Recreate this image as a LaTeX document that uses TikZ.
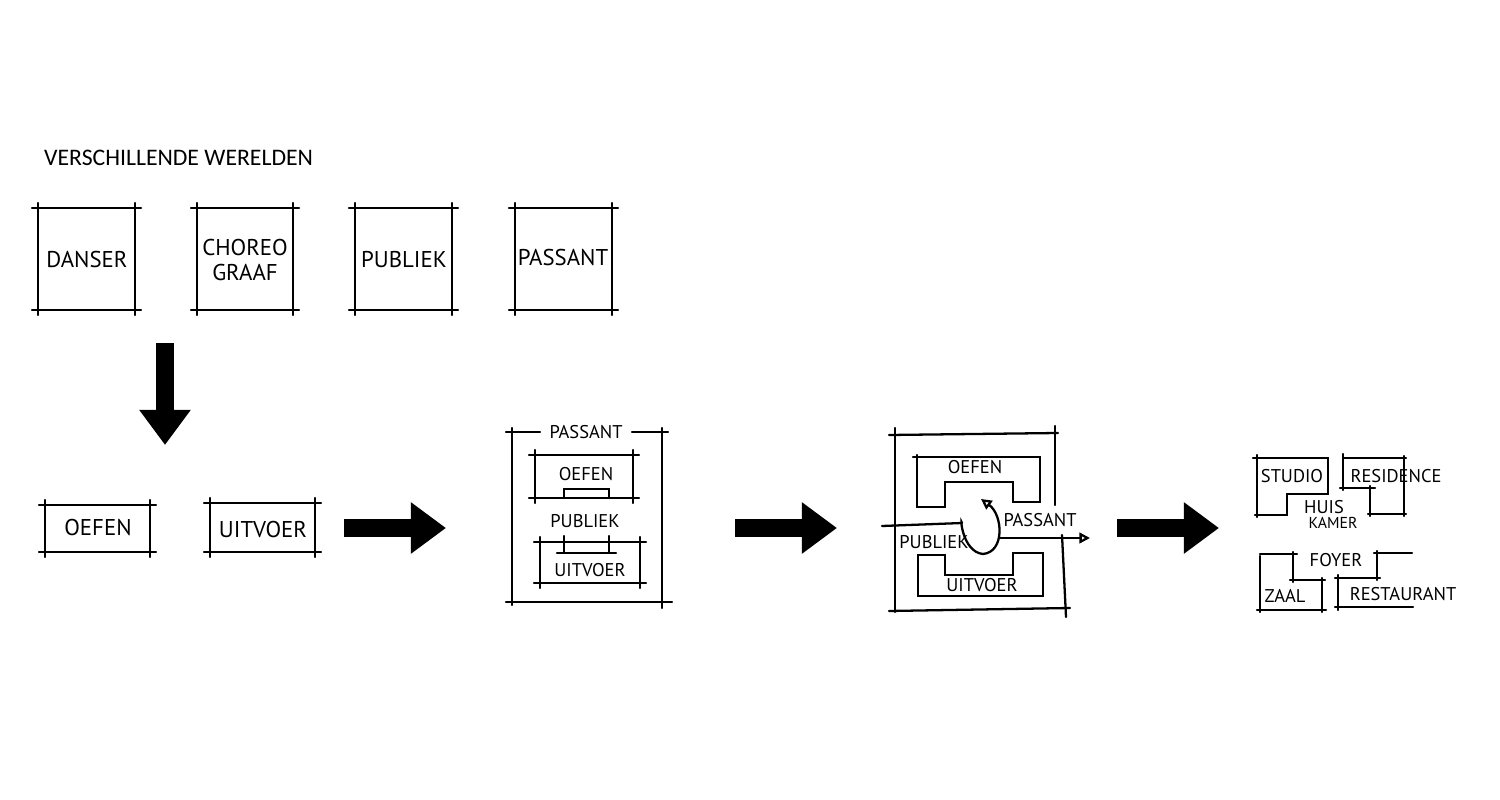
\documentclass[tikz,border=0pt]{standalone}
\usepackage{fontspec}
\setmainfont{Carlito}
\newfontfamily\hand{PT Sans}
\usetikzlibrary{arrows.meta}
\tikzset{
  pen/.style={line width=1.3pt, line cap=round, line join=miter},
  lbl/.style={font=\hand\fontsize{13}{14}\selectfont, inner sep=1pt, align=center},
  slbl/.style={font=\hand\fontsize{10.5}{12}\selectfont, inner sep=1pt, align=center},
  bigarrow/.style={line width=10pt, -{Triangle[length=20pt,width=28pt]}},
  openarrow/.style={pen, -{Triangle[open,length=6pt,width=6pt]}}
}
% sketch box with overshooting corners
\newcommand{\skbox}[4]{%
  \draw[pen] (#1-6,#2) -- (#3+6,#2);
  \draw[pen] (#1-6,#4) -- (#3+6,#4);
  \draw[pen] (#1,#2-5) -- (#1,#4+5);
  \draw[pen] (#3,#2-5) -- (#3,#4+5);}

\begin{document}
\begin{tikzpicture}[x=0.02cm,y=-0.02cm]
        \useasboundingbox (0,0) rectangle (1500,800);

        \node[anchor=west, font=\fontsize{13.5}{15}\selectfont] (title) at (38,158) {VERSCHILLENDE WERELDEN};

        % werelden
        \skbox{38}{208}{135}{310}
        \skbox{197}{208}{293}{310}
        \skbox{355}{208}{452}{310}
        \skbox{515}{208}{612}{310}
        \node[lbl] (danser) at (87,260) {DANSER};
        \node[lbl] (choreo) at (245,260) {CHOREO\\GRAAF};
        \node[lbl] (publiek) at (404,260) {PUBLIEK};
        \node[lbl] (passant) at (563,258) {PASSANT};

        \coordinate (d1) at (165,343);
        \coordinate (d2) at (165,445);
        \draw[bigarrow] (d1) -- (d2);

        % oefen / uitvoer
        \skbox{45}{505}{150}{552}
        \skbox{210}{503}{315}{552}
        \node[lbl] (oefen1) at (98,528) {OEFEN};
        \node[lbl] (uitvoer1) at (263,530) {UITVOER};

        \coordinate (a1) at (344,528);
        \coordinate (a2) at (446,528);
        \draw[bigarrow] (a1) -- (a2);

        % passant frame
        \draw[pen] (506,432) -- (540,432);
        \draw[pen] (632,432) -- (668,432);
        \draw[pen] (506,602) -- (672,602);
        \draw[pen] (512,428) -- (512,605);
        \draw[pen] (662,428) -- (662,608);
        \node[slbl] (passant2) at (586,432) {PASSANT};
        \skbox{535}{455}{633}{498}
        \skbox{540}{542}{640}{583}
        \draw[pen] (564,498) -- (564,489) -- (609,489) -- (609,498);
        \draw[pen] (557,553) -- (616,553);
        \draw[pen] (564,536) -- (564,553);
        \draw[pen] (609,536) -- (609,553);
        \node[slbl] (oefen2) at (586,474) {OEFEN};
        \node[slbl] (publiek2) at (585,521) {PUBLIEK};
        \node[slbl] (uitvoer2) at (590,570) {UITVOER};

        \coordinate (b1) at (735,528);
        \coordinate (b2) at (837,528);
        \draw[bigarrow] (b1) -- (b2);

        % loop
        \draw[pen] (889,435) -- (1058,433);
        \draw[pen] (895,428) -- (895,612);
        \draw[pen] (889,611) -- (1070,608);
        \draw[pen] (1055,426) -- (1055,505);
        \draw[pen] (1062,535) -- (1066,617);
        \draw[pen] (913,457) -- (1040,457) -- (1040,502) -- (1013,502) -- (1013,482)
                   -- (945,482) -- (945,507) -- (917,507) -- (917,455);
        \draw[pen] (918,555) -- (945,555) -- (945,575) -- (1013,575) -- (1013,553)
                   -- (1043,553) -- (1043,596) -- (918,596) -- cycle;
        \node[slbl] (oefen3) at (975,467) {OEFEN};
        \node[slbl] (uitvoer3) at (982,585) {UITVOER};
        \node[slbl] (publiek3) at (934,542) {PUBLIEK};
        \node[slbl] (passant3) at (1040,520) {PASSANT};
        \coordinate (p0) at (882,526);
        \coordinate (p1) at (962,523);
        \coordinate (q0) at (1000,538);
        \coordinate (q1) at (1090,538);
        \draw[pen] (p0) -- (p1);
        \draw[openarrow] (p1) .. controls (960,515) and (962,552) .. (983,554)
                         .. controls (1005,552) and (1003,515) .. (981,499);
        \draw[openarrow] (q0) -- (q1);

        \coordinate (c1) at (1117,528);
        \coordinate (c2) at (1219,528);
        \draw[bigarrow] (c1) -- (c2);

        % ruimtes
        \draw[pen] (1253,458) -- (1328,458) -- (1328,494) -- (1287,494) -- (1287,515)
                   -- (1255,515);
        \draw[pen] (1257,455) -- (1257,517);
        \draw[pen] (1343,454) -- (1343,490);
        \draw[pen] (1343,458) -- (1406,458);
        \draw[pen] (1404,456) -- (1404,516);
        \draw[pen] (1368,514) -- (1406,514);
        \draw[pen] (1370,486) -- (1370,516);
        \draw[pen] (1340,488) -- (1375,488);
        \node[slbl] (studio) at (1292,476) {STUDIO};
        \node[slbl] (residence) at (1396,476) {RESIDENCE};
        \node[slbl] (huis) at (1324,507) {HUIS};
        \node[slbl, font=\hand\fontsize{9}{10}\selectfont] (kamer) at (1333,523) {KAMER};

        \draw[pen] (1260,556) -- (1260,612);
        \draw[pen] (1260,554) -- (1297,554);
        \draw[pen] (1293,552) -- (1293,582);
        \draw[pen] (1290,580) -- (1325,580);
        \draw[pen] (1322,578) -- (1322,612);
        \draw[pen] (1257,610) -- (1326,610);
        \draw[pen] (1374,553) -- (1412,553);
        \draw[pen] (1377,551) -- (1377,580);
        \draw[pen] (1335,578) -- (1380,578);
        \draw[pen] (1338,575) -- (1338,610);
        \draw[pen] (1335,607) -- (1413,607);
        \node[slbl] (foyer) at (1336,560) {FOYER};
        \node[slbl] (zaal) at (1285,596) {ZAAL};
        \node[slbl] (restaurant) at (1403,594) {RESTAURANT};
\end{tikzpicture}
\end{document}
